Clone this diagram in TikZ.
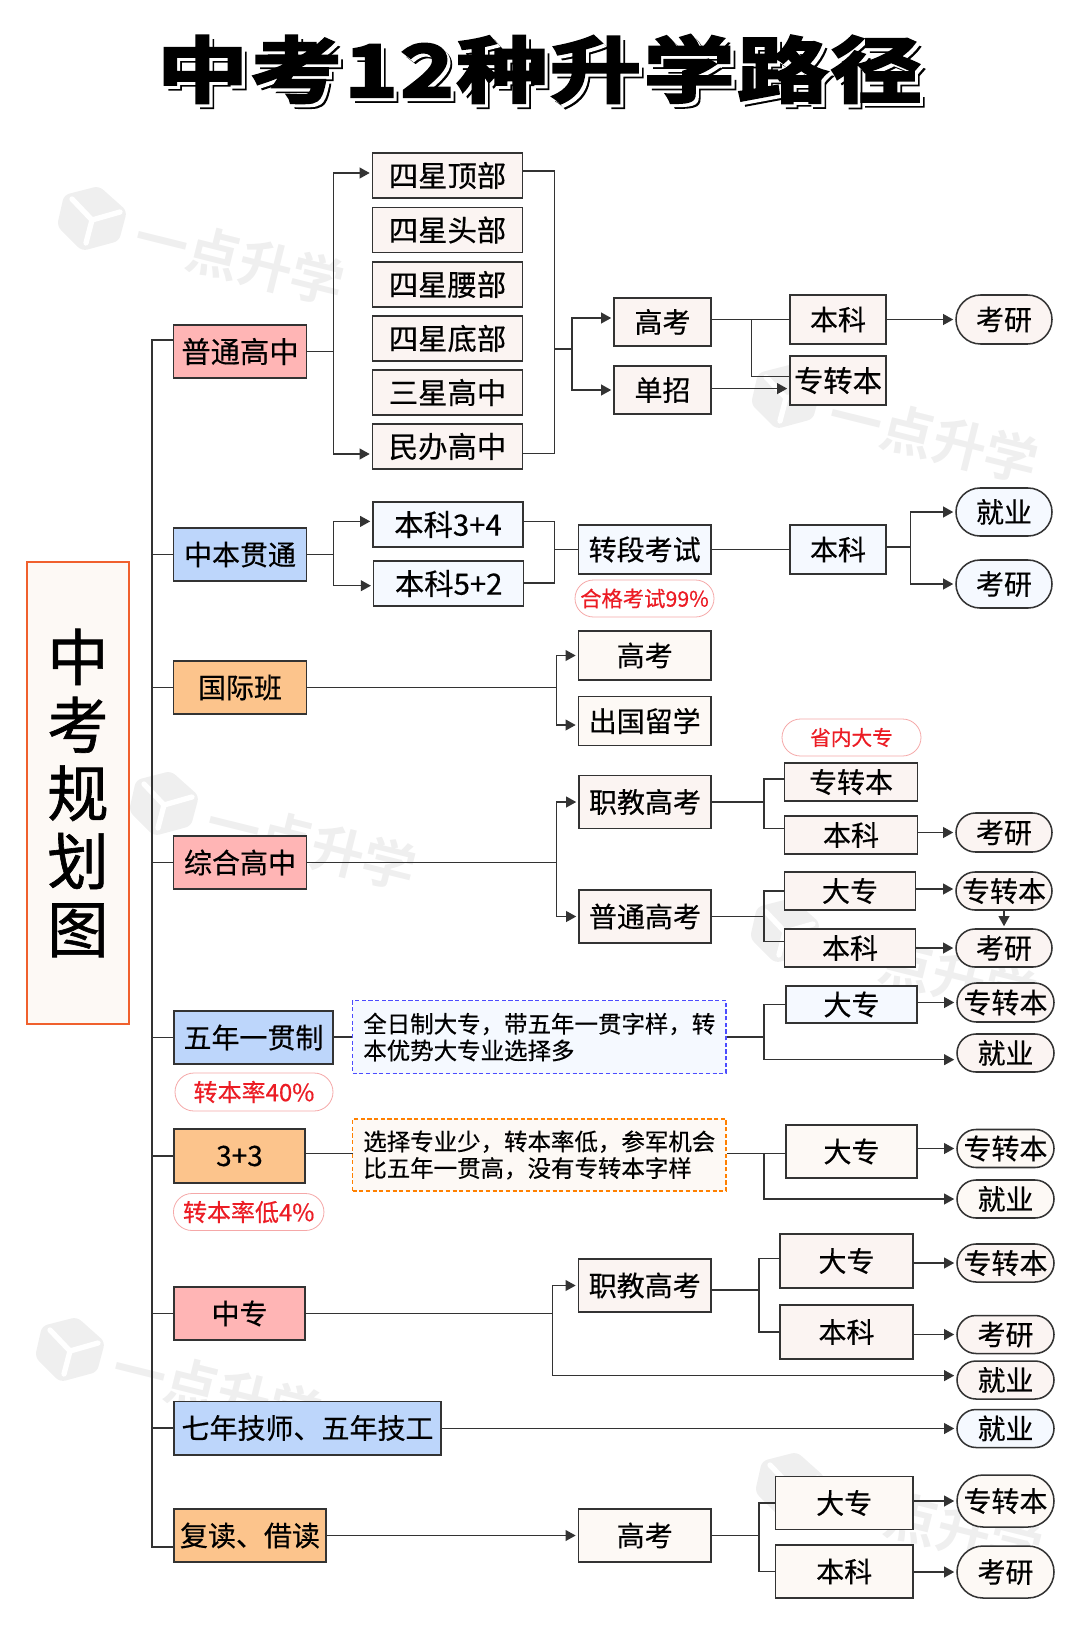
\documentclass[tikz,border=0pt]{standalone}
\usepackage{fontspec}
\setmainfont[FakeBold=0.4]{Noto Sans CJK SC}
\newfontfamily\titlefont[FakeBold=3.5,FakeStretch=1.27,LetterSpace=3]{Noto Sans CJK SC Bold}
\newfontfamily\markfont{Noto Sans CJK SC Bold}
\usepackage{xcolor}
\usetikzlibrary{arrows.meta}
\usetikzlibrary{shapes.misc}

\definecolor{linec}{HTML}{333333}
\definecolor{hotpink}{HTML}{FFB5B5}
\definecolor{hotblue}{HTML}{BDD6FB}
\definecolor{hotorange}{HTML}{FCC48C}
\definecolor{palepink}{HTML}{FBF4F2}
\definecolor{paleblue}{HTML}{F5F9FF}
\definecolor{palecream}{HTML}{FDF9F5}
\definecolor{rootline}{HTML}{F0602D}
\definecolor{tagred}{HTML}{EC1C24}
\definecolor{tagline}{HTML}{F5A8A8}
\definecolor{markgray}{HTML}{EFEFEF}

\tikzset{
  wh/.style 2 args={minimum width=#1*0.75pt,minimum height=#2*0.75pt},
  bx/.style={draw=linec,line width=1.15pt,inner sep=0pt,font=\fontsize{21}{25}\selectfont},
  big/.style={font=\fontsize{22}{25}\selectfont},
  pinkbx/.style={bx,fill=hotpink},
  bluebx/.style={bx,fill=hotblue},
  orangebx/.style={bx,fill=hotorange},
  pinkcell/.style={bx,fill=palepink},
  bluecell/.style={bx,fill=paleblue},
  creamcell/.style={bx,fill=palecream},
  pill/.style={rounded rectangle},
  tagpill/.style={rounded rectangle,draw=tagline,line width=0.6pt,fill=white,inner sep=0pt,text=tagred},
  notebx/.style={dashed,dash pattern=on 3.2pt off 1.8pt,line width=1pt,inner sep=0pt,align=left,
    font=\fontsize{17.6}{20}\selectfont},
  conn/.style={draw=linec,line width=1.15pt},
  arr/.style={conn,-{Triangle[length=7.5pt,width=8pt]},shorten >=1.5pt},
  wmark/.pic={
    \fill [markgray,rounded corners=4pt] (7,32) -- (35,7) -- (27,-23) -- (-10,-33) -- (-35,-8) -- (-28,23) -- cycle;
    \draw [white,line width=4pt,line cap=round] (-20,19) -- (0,-2) -- (-6,-25) (0,-2) -- (28,6);
    \node (-label) [text=markgray,rotate=-14,font=\markfont\fontsize{40}{44}\selectfont] at (148,-42) {一点升学};
  },
}

\newcommand{\titlelayers}{中考12种升学路径}

\begin{document}
\begin{tikzpicture}[x=0.75pt,y=0.75pt,yscale=-1,xscale=1]
\useasboundingbox (0,0) rectangle (1080,1642);

%Watermarks
\pic (wma) at (92,218) {wmark};
\pic (wmb) at (786,396) {wmark};
\pic (wmc) at (164,803) {wmark};
\pic (wmd) at (785,930) {wmark};
\pic (wme) at (70,1349) {wmark};
\pic (wmf) at (790,1484) {wmark};

% Title Node
\node (title) [inner sep=0pt,font=\titlefont\fontsize{54}{58}\selectfont] at (539.5,71.5) {\rlap{\kern3.6pt\raisebox{-3.6pt}{\titlelayers}}\rlap{\kern2.3pt\raisebox{-2.3pt}{\textcolor{white}{\titlelayers}}}\titlelayers};

% Root Node
\node (root) [draw=rootline,line width=1.5pt,fill=palecream,inner sep=0pt,wh={102}{462},align=center,font=\addfontfeature{FakeBold=1}\fontsize{46}{51}\selectfont] at (78,793) {中\\考\\规\\划\\图};

% Level one
\node (pthz) [pinkbx,big,wh={133}{53}] at (240,351.5) {普通高中};
\node (zbgt) [bluebx,wh={133}{53}] at (240,554.5) {中本贯通};
\node (gjb) [orangebx,wh={133}{53}] at (240,687.5) {国际班};
\node (zhgz) [pinkbx,wh={133}{53}] at (240,862.5) {综合高中};
\node (wnyg) [bluebx,wh={159}{53}] at (253.5,1037.5) {五年一贯制};
\node (sjs) [orangebx,wh={130.5}{54}] at (239.5,1156) {3+3};
\node (zz) [pinkbx,wh={130.5}{53}] at (239.5,1313.5) {中专};
\node (qnjs) [bluebx,wh={267}{53.5}] at (307.5,1428) {七年技师、五年技工};
\node (fdjd) [orangebx,wh={152.5}{53}] at (250,1535.5) {复读、借读};

% Tags
\node (tagb) [tagpill,wh={139}{37},font=\fontsize{16}{18}\selectfont] at (644.5,598.5) {合格考试99\%};
\node (tagc) [tagpill,wh={139}{37},font=\fontsize{15.5}{18}\selectfont] at (851.5,737.5) {省内大专};
\node (tagd) [tagpill,wh={158}{38},font=\fontsize{18}{20}\selectfont] at (254,1092) {\raisebox{-1pt}{转本率40\%}};
\node (tage) [tagpill,wh={150.5}{37},font=\fontsize{18}{20}\selectfont] at (248.7,1212) {\raisebox{-1pt}{转本率低4\%}};

% Row A
\node (sxa) [pinkcell,big,wh={150}{45}] at (447.5,175.5) {四星顶部};
\node (sxb) [pinkcell,big,wh={150}{45}] at (447.5,230) {四星头部};
\node (sxc) [pinkcell,big,wh={150}{45}] at (447.5,284.5) {四星腰部};
\node (sxd) [pinkcell,big,wh={150}{45}] at (447.5,338.5) {四星底部};
\node (sxe) [pinkcell,big,wh={150}{45}] at (447.5,392.5) {三星高中};
\node (sxf) [pinkcell,big,wh={150}{45}] at (447.5,446.5) {民办高中};
\node (gka) [pinkcell,wh={97}{48}] at (662.5,322) {高考};
\node (dz) [pinkcell,wh={97}{48}] at (662.5,390) {单招};
\node (bka) [pinkcell,wh={96}{49}] at (838,319.5) {本科};
\node (zba) [pinkcell,big,wh={96}{49}] at (838,380.5) {专转本};
\node (kya) [pinkcell,pill,wh={96}{49}] at (1004,319.5) {考研};

% Row B
\node (bksj) [bluecell,big,wh={150}{45}] at (448,524.5) {本科3+4};
\node (bkwe) [bluecell,big,wh={150}{45}] at (448.7,583.5) {本科5+2};
\node (zdks) [bluecell,wh={132.5}{49}] at (644.7,549.5) {转段考试};
\node (bkb) [bluecell,wh={96}{49}] at (838,549.5) {本科};
\node (jyb) [bluecell,pill,wh={96}{48}] at (1004,512) {就业};
\node (kyb) [bluecell,pill,wh={96}{48}] at (1004,584) {考研};

% Row C
\node (gkc) [creamcell,wh={132.5}{49}] at (644.7,655.5) {高考};
\node (cglx) [creamcell,wh={132.5}{49}] at (644.7,721) {出国留学};

% Row D
\node (zjd) [pinkcell,wh={132}{53}] at (645,802) {职教高考};
\node (ptgk) [pinkcell,wh={132}{53}] at (645,916.5) {普通高考};
\node (zbd) [pinkcell,wh={133}{38}] at (851,782) {专转本};
\node (bkd) [pinkcell,wh={133}{38}] at (851,835) {本科};
\node (kyd) [pinkcell,pill,wh={96}{39}] at (1004,832.5) {考研};
\node (dzd) [pinkcell,wh={131}{38}] at (850,891) {大专};
\node (bke) [pinkcell,wh={131}{38}] at (850,948) {本科};
\node (zbe) [pinkcell,pill,wh={96}{38}] at (1004,891) {专转本};
\node (kye) [pinkcell,pill,wh={96}{38}] at (1004,948) {考研};

% Row E
\node (notee) [notebx,draw=blue!70!white,fill=paleblue,wh={373.5}{73}] at (539.3,1037) {全日制大专，带五年一贯字样，转\\本优势大专业选择多};
\node (dzf) [bluecell,wh={131}{37}] at (851.5,1004.5) {大专};
\node (zbf) [pinkcell,pill,wh={97}{39}] at (1005.5,1002.5) {专转本};
\node (jyf) [pinkcell,pill,wh={97}{38}] at (1005.5,1053) {就业};

% Row F
\node (notef) [notebx,draw=orange,fill=palecream,wh={373.5}{72}] at (539.3,1155) {选择专业少，转本率低，参军机会\\比五年一贯高，没有专转本字样};
\node (dzg) [creamcell,wh={131}{53}] at (851.5,1151.5) {大专};
\node (zbg) [creamcell,pill,wh={97}{38}] at (1005.5,1148.5) {专转本};
\node (jyg) [creamcell,pill,wh={97}{38}] at (1005.5,1199) {就业};

% Row G
\node (zjh) [pinkcell,wh={132.5}{53}] at (644.7,1285.5) {职教高考};
\node (dzh) [pinkcell,wh={133}{54}] at (846.5,1261) {大专};
\node (bkh) [pinkcell,wh={133}{54}] at (846.5,1332) {本科};
\node (zbh) [pinkcell,pill,wh={97}{38}] at (1005.5,1263) {专转本};
\node (kyh) [pinkcell,pill,wh={97}{38}] at (1005.5,1334.5) {考研};
\node (jyh) [pinkcell,pill,wh={97}{38}] at (1005.5,1380) {就业};
\node (jyi) [bluecell,pill,wh={97}{38}] at (1005.5,1428.5) {就业};

% Row H
\node (gkj) [creamcell,wh={132.5}{53}] at (644.7,1535.5) {高考};
\node (dzj) [creamcell,wh={137.5}{53}] at (844.2,1503) {大专};
\node (bkj) [creamcell,wh={137.5}{53}] at (844.2,1571.5) {本科};
\node (zbj) [creamcell,pill,wh={97}{52}] at (1005.5,1501) {专转本};
\node (kyj) [creamcell,pill,wh={97}{52}] at (1005.5,1572) {考研};

%Bus
\coordinate (bust) at (152,340);
\coordinate (busb) at (152,1547);
\draw [conn] (pthz.west |- bust) -- (bust) -- (busb) -- (fdjd.west |- busb);
\draw [conn] (bust |- zbgt.west) -- (zbgt.west);
\draw [conn] (bust |- gjb.west) -- (gjb.west);
\draw [conn] (bust |- zhgz.west) -- (zhgz.west);
\draw [conn] (bust |- wnyg.west) -- (wnyg.west);
\draw [conn] (bust |- sjs.west) -- (sjs.west);
\draw [conn] (bust |- zz.west) -- (zz.west);
\draw [conn] (bust |- qnjs.west) -- (qnjs.west);

%Row A lines
\coordinate (bra) at (333.5,351.5);
\coordinate (braa) at (333.5,173);
\coordinate (brab) at (333.5,454);
\draw [conn] (pthz.east) -- (bra);
\draw [arr] (bra) -- (braa) -- (sxa.west |- braa);
\draw [arr] (bra) -- (brab) -- (sxf.west |- brab);
\coordinate (cola) at (554.5,171);
\coordinate (colb) at (554.5,453.6);
\draw [conn] (sxa.east |- cola) -- (cola) -- (colb) -- (sxf.east |- colb);
\coordinate (brb) at (572,349);
\draw [conn] (brb -| cola) -- (brb);
\draw [arr] (brb) |- ([yshift=-3pt]gka.west);
\draw [arr] (brb) |- (dz.west);
\draw [conn] (gka.east |- bka.west) -- (bka.west);
\coordinate (brc) at (751.5,319.5);
\draw [conn] (brc) |- ([yshift=-3pt]zba.west);
\coordinate (dzl) at (711,388.6);
\draw [arr] (dzl) -- (zba.west |- dzl);
\draw [arr] (bka.east) -- (kya.west);

%Row B lines
\coordinate (brd) at (333.5,554.5);
\coordinate (brda) at (333.5,521.4);
\coordinate (brdb) at (333.5,585.7);
\draw [conn] (zbgt.east) -- (brd);
\draw [arr] (brd) -- (brda) -- (bksj.west |- brda);
\draw [arr] (brd) -- (brdb) -- (bkwe.west |- brdb);
\coordinate (cole) at (554.5,521.4);
\coordinate (colf) at (554.5,583);
\draw [conn] (bksj.east |- cole) -- (cole) -- (colf) -- (bkwe.east |- colf);
\draw [conn] (cole |- zdks.west) -- (zdks.west);
\draw [conn] (zdks.east) -- (bkb.west);
\coordinate (bre) at (910.5,547);
\draw [conn] (bkb.east |- bre) -- (bre);
\draw [arr] (bre) |- (jyb.west);
\draw [arr] (bre) |- (kyb.west);

%Row C lines
\coordinate (brf) at (556.5,687.5);
\draw [conn] (gjb.east) -- (brf);
\draw [arr] (brf) |- (gkc.west);
\draw [arr] (brf) |- ([yshift=3pt]cglx.west);

%Row D lines
\coordinate (brg) at (556.5,862.5);
\draw [conn] (zhgz.east) -- (brg);
\draw [arr] (brg) |- (zjd.west);
\draw [arr] (brg) |- (ptgk.west);
\coordinate (brh) at (764,802);
\draw [conn] (zjd.east) -- (brh);
\draw [conn] (brh) |- ([yshift=-2.4pt]zbd.west);
\draw [conn] (brh) |- ([yshift=-5pt]bkd.west);
\draw [arr] (bkd.east |- kyd.west) -- (kyd.west);
\coordinate (bri) at (764,916.5);
\draw [conn] (ptgk.east) -- (bri);
\draw [conn] (bri) |- (dzd.west);
\draw [conn] (bri) |- ([yshift=-5pt]bke.west);
\draw [arr] ([yshift=-1.5pt]dzd.east) -- ([yshift=-1.5pt]zbe.west);
\draw [arr] (bke.east) -- (kye.west);
\draw [arr] (zbe.south) -- (kye.north);

%Row E lines
\draw [conn] (wnyg.east |- notee.east) -- (notee.west);
\coordinate (brj) at (764,1037);
\draw [conn] (notee.east) -- (brj);
\draw [conn] (brj) |- (dzf.west);
\draw [arr] (brj) |- ([yshift=5pt]jyf.west);
\draw [arr] (dzf.east |- zbf.west) -- (zbf.west);

%Row F lines
\coordinate (notefl) at (352.6,1153.5);
\coordinate (brk) at (764,1153.5);
\draw [conn] (sjs.east |- notefl) -- (notefl);
\draw [conn] (brk -| notef.east) -- (dzg.west |- brk);
\draw [arr] (brk) |- (jyg.west);
\draw [arr] (dzg.east |- zbg.west) -- (zbg.west);

%Row G lines
\coordinate (brl) at (552.5,1313.5);
\draw [conn] (zz.east) -- (brl);
\draw [arr] (brl) |- (zjh.west);
\draw [arr] (brl) |- ([yshift=-3.3pt]jyh.west);
\coordinate (brm) at (759,1290);
\draw [conn] (zjh.east |- brm) -- (brm);
\draw [conn] (brm) |- ([yshift=-1.8pt]dzh.west);
\draw [conn] (brm) |- (bkh.west);
\draw [arr] (dzh.east |- zbh.west) -- (zbh.west);
\draw [arr] (bkh.east |- kyh.west) -- (kyh.west);
\draw [arr] (qnjs.east |- jyi.west) -- (jyi.west);

%Row H lines
\draw [arr] (fdjd.east) -- (gkj.west);
\coordinate (brn) at (759,1535.5);
\draw [conn] (gkj.east) -- (brn);
\draw [conn] (brn) |- (dzj.west);
\draw [conn] (brn) |- (bkj.west);
\draw [arr] (dzj.east |- zbj.west) -- (zbj.west);
\draw [arr] (bkj.east |- kyj.west) -- (kyj.west);

\end{tikzpicture}
\end{document}
